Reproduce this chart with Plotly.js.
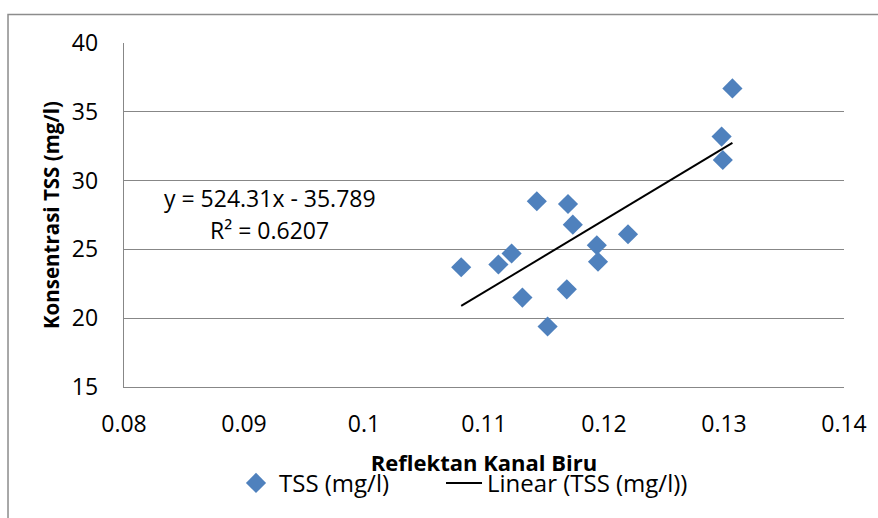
<!DOCTYPE html>
<html>
<head>
<meta charset="utf-8">
<script src="https://cdn.plot.ly/plotly-3.0.1.min.js"></script>
<style>
  html, body { margin: 0; padding: 0; background: #ffffff; }
  #chart { width: 878px; height: 518px; }
</style>
</head>
<body>
<div id="chart"></div>
<script>
// Data
const reflektanBiru = [0.1081, 0.1112, 0.1123, 0.1144, 0.1132, 0.1153, 0.1170, 0.1174, 0.1169, 0.1194, 0.1195, 0.1220, 0.1298, 0.1299, 0.1307];
const tssValues     = [23.7, 23.9, 24.7, 28.5, 21.5, 19.4, 28.3, 26.8, 22.1, 25.3, 24.1, 26.1, 33.2, 31.5, 36.7];

const trendSlope = 524.31;
const trendIntercept = -35.789;
const trendR2 = 0.6207;

const xTickVals = [0.08, 0.09, 0.10, 0.11, 0.12, 0.13, 0.14];
const xTickText = ["0.08", "0.09", "0.1", "0.11", "0.12", "0.13", "0.14"];
const yTickVals = [15, 20, 25, 30, 35, 40];
const yTickText = ["15", "20", "25", "30", "35", "40"];

const seriesName = "TSS (mg/l)";
const trendName = "Linear (TSS (mg/l))";
const xTitle = "Reflektan Kanal Biru";
const yTitle = "Konsentrasi TSS (mg/l)";

// Trendline endpoints from the data extent
const xMin = Math.min(...reflektanBiru);
const xMax = Math.max(...reflektanBiru);
const trendX = [xMin, xMax];
const trendY = trendX.map(v => trendSlope * v + trendIntercept);

const FONT = "'Open Sans', 'Noto Sans', sans-serif";
const GRID = "#878787";

const traces = [
  {
    type: "scatter",
    mode: "markers",
    name: seriesName,
    x: reflektanBiru,
    y: tssValues,
    legend: "legend",
    marker: { symbol: "diamond", size: 15.5, color: "#4F81BD", line: { width: 0 } },
    cliponaxis: false
  },
  {
    type: "scatter",
    mode: "lines",
    name: trendName,
    x: trendX,
    y: trendY,
    legend: "legend2",
    line: { color: "#000000", width: 2 }
  }
];

const eqText = "y = " + trendSlope + "x - " + (-trendIntercept);
const r2Text = "R² = " + trendR2;

const legendCommon = {
  orientation: "h",
  xanchor: "left",
  y: -0.28, yanchor: "middle",
  font: { family: FONT, size: 24, color: "#000000" },
  bgcolor: "rgba(0,0,0,0)",
  itemwidth: 36
};

const layout = {
  width: 878,
  height: 518,
  margin: { l: 124, r: 34, t: 43, b: 126 },
  paper_bgcolor: "#ffffff",
  plot_bgcolor: "#ffffff",
  font: { family: FONT, color: "#000000", size: 22 },
  showlegend: true,
  legend: Object.assign({}, legendCommon, { x: 0.1514 }),
  legend2: Object.assign({}, legendCommon, { x: 0.4403 }),
  xaxis: {
    range: [0.08, 0.14],
    tickmode: "array",
    tickvals: xTickVals,
    ticktext: xTickText,
    showgrid: false,
    zeroline: false,
    showline: true,
    linecolor: GRID,
    linewidth: 1.3,
    ticks: "",
    ticklabelstandoff: 16,
    tickfont: { family: FONT, size: 23, color: "#000000" },
    title: { text: xTitle, font: { family: FONT, size: 22, color: "#000000", weight: "bold" }, standoff: 17 }
  },
  yaxis: {
    range: [15, 40],
    tickmode: "array",
    tickvals: yTickVals,
    ticktext: yTickText,
    showgrid: true,
    gridcolor: GRID,
    gridwidth: 1.3,
    zeroline: false,
    showline: true,
    linecolor: GRID,
    linewidth: 1.3,
    ticks: "",
    ticklabelstandoff: 20,
    tickfont: { family: FONT, size: 23, color: "#000000" },
    title: { text: yTitle, font: { family: FONT, size: 20.5, color: "#000000", weight: "bold" }, standoff: 6 }
  },
  annotations: [
    {
      xref: "paper", yref: "paper",
      x: 0.2028, y: 0.550, xanchor: "center", yanchor: "middle",
      text: eqText, showarrow: false,
      font: { family: FONT, size: 23, color: "#000000" }
    },
    {
      xref: "paper", yref: "paper",
      x: 0.2014, y: 0.4556, xanchor: "center", yanchor: "middle",
      text: r2Text, showarrow: false,
      font: { family: FONT, size: 23, color: "#000000" }
    }
  ],
  shapes: [
    {
      type: "path", xref: "paper", yref: "paper",
      path: "M -0.1611 -0.5 L -0.1611 1.0831 L 1.2 1.0831",
      line: { color: "#8c8c8c", width: 1.5 }
    }
  ]
};

Plotly.newPlot("chart", traces, layout, { displayModeBar: false, staticPlot: true });
</script>
</body>
</html>
